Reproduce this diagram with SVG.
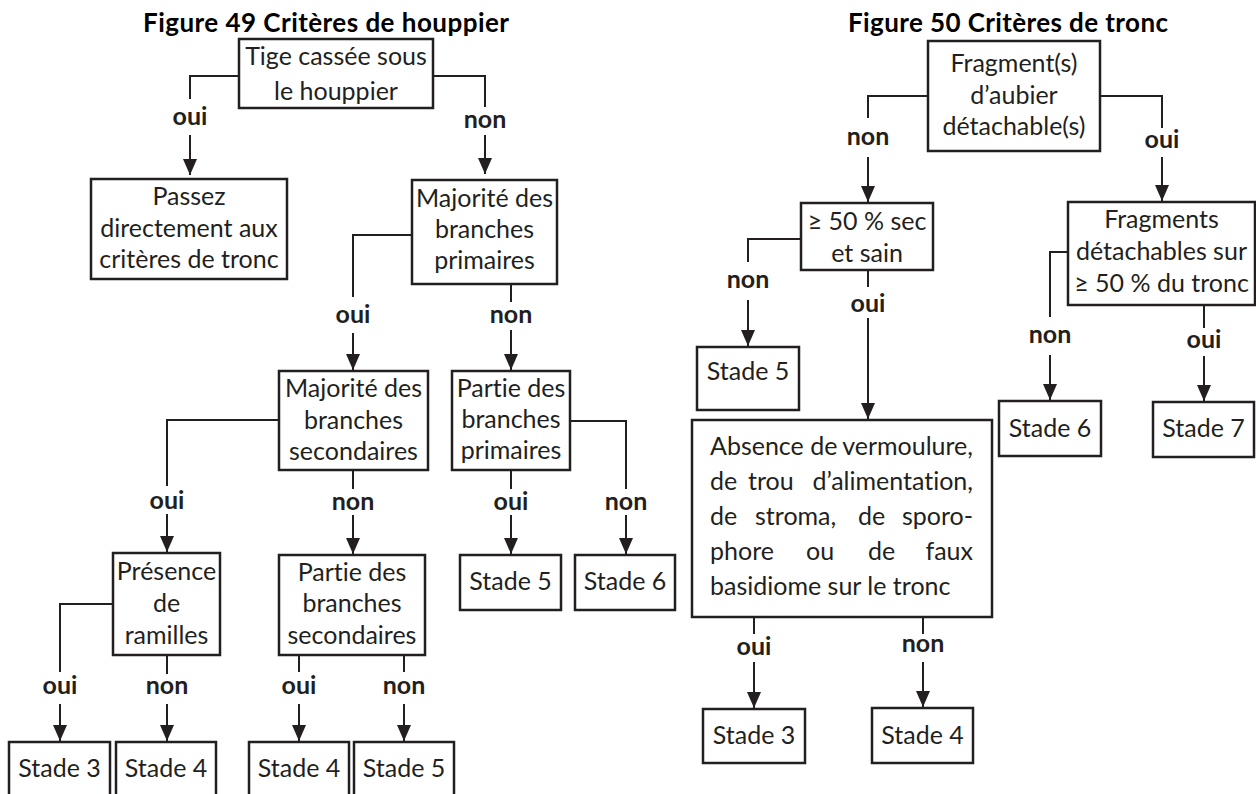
<svg xmlns="http://www.w3.org/2000/svg" width="1256" height="794" viewBox="0 0 1256 794">
<style>
.bg{fill:#ffffff}
.box{fill:none;stroke:#231f20;stroke-width:2.5}
text{font-variant-ligatures:none}
.t{font-family:Lato,"Open Sans","Liberation Sans",sans-serif;font-size:25px;fill:#231f20;text-anchor:middle}
.tl{font-family:Lato,"Open Sans","Liberation Sans",sans-serif;font-size:25px;fill:#231f20}
.lab{font-family:Lato,"Open Sans","Liberation Sans",sans-serif;font-size:25px;font-weight:bold;fill:#231f20;text-anchor:middle}
.title{font-family:Lato,"Open Sans","Liberation Sans",sans-serif;font-size:26px;font-weight:bold;fill:#000;text-anchor:middle}
.ln{fill:none;stroke:#231f20;stroke-width:2}
.ar{fill:none;stroke:#231f20;stroke-width:2;marker-end:url(#head)}
</style>
<defs>
<marker id="head" viewBox="0 0 16 16" markerWidth="16" markerHeight="16" refX="16" refY="8" orient="auto" markerUnits="userSpaceOnUse">
<path d="M0,1 L16,8 L0,15 Z" fill="#231f20"/>
</marker>
<clipPath id="clipTige"><rect x="239" y="39" width="194" height="65"/></clipPath>
</defs>
<rect class="bg" x="0" y="0" width="1256" height="794"/>

<g id="titles">
<text class="title" x="326" y="32" textLength="366">Figure 49 Critères de houppier</text>
<text class="title" x="1008" y="32" textLength="320">Figure 50 Critères de tronc</text>
</g>

<g id="connectors">
<path class="ln" d="M239,76 H190 V99"/>
<text class="lab" x="190" y="125">oui</text>
<path class="ar" d="M190,135 V175"/>
<path class="ln" d="M433,76 H485 V107"/>
<text class="lab" x="485" y="128">non</text>
<path class="ar" d="M485,135 V174"/>

<path class="ln" d="M412,235 H353 V297"/>
<text class="lab" x="353" y="323">oui</text>
<path class="ar" d="M353,333 V370"/>
<path class="ln" d="M511,284 V302"/>
<text class="lab" x="511" y="323">non</text>
<path class="ar" d="M511,330 V370"/>

<path class="ln" d="M279,420 H167 V486"/>
<text class="lab" x="167" y="509">oui</text>
<path class="ar" d="M167,514 V552"/>
<path class="ln" d="M353,470 V489"/>
<text class="lab" x="353" y="510">non</text>
<path class="ar" d="M353,515 V554"/>
<path class="ln" d="M511,470 V489"/>
<text class="lab" x="511" y="510">oui</text>
<path class="ar" d="M511,515 V554"/>
<path class="ln" d="M570,421 H626 V489"/>
<text class="lab" x="626" y="510">non</text>
<path class="ar" d="M626,515 V554"/>

<path class="ln" d="M113,604 H60 V672"/>
<text class="lab" x="60" y="694">oui</text>
<path class="ar" d="M60,704 V741"/>
<path class="ln" d="M167,655 V674"/>
<text class="lab" x="167" y="694">non</text>
<path class="ar" d="M167,704 V741"/>
<path class="ln" d="M299,655 V672"/>
<text class="lab" x="299" y="694">oui</text>
<path class="ar" d="M299,704 V741"/>
<path class="ln" d="M404,655 V672"/>
<text class="lab" x="404" y="694">non</text>
<path class="ar" d="M404,704 V741"/>

<path class="ln" d="M928,96 H868 V118"/>
<text class="lab" x="868" y="145">non</text>
<path class="ar" d="M868,157 V202"/>
<path class="ln" d="M1100,96 H1162 V128"/>
<text class="lab" x="1162" y="148">oui</text>
<path class="ar" d="M1162,157 V201"/>

<path class="ln" d="M801,239 H748 V262"/>
<text class="lab" x="748" y="288">non</text>
<path class="ar" d="M748,300 V346"/>
<path class="ln" d="M868,270 V287"/>
<text class="lab" x="868" y="312">oui</text>
<path class="ar" d="M868,318 V419"/>
<path class="ln" d="M1068,252 H1050 V317"/>
<text class="lab" x="1050" y="343">non</text>
<path class="ar" d="M1050,355 V400"/>
<path class="ln" d="M1204,305 V328"/>
<text class="lab" x="1204" y="348">oui</text>
<path class="ar" d="M1204,356 V401"/>

<path class="ln" d="M754,617 V634"/>
<text class="lab" x="754" y="655">oui</text>
<path class="ar" d="M754,662 V708"/>
<path class="ln" d="M923,617 V634"/>
<text class="lab" x="923" y="652">non</text>
<path class="ar" d="M923,662 V707"/>
</g>

<g id="n-tige">
<rect class="box" x="239" y="39" width="194" height="69"/>
<text class="t" x="336" y="65">Tige cassée sous</text>
<text class="t" x="336" y="100" clip-path="url(#clipTige)">le houppier</text>
</g>
<g id="n-passez">
<rect class="box" x="91" y="179" width="196" height="100"/>
<text class="t" x="189" y="205">Passez</text>
<text class="t" x="189" y="237">directement aux</text>
<text class="t" x="189" y="268">critères de tronc</text>
</g>
<g id="n-maj-prim">
<rect class="box" x="412" y="180" width="145" height="104"/>
<text class="t" x="484.5" y="207">Majorité des</text>
<text class="t" x="484.5" y="238">branches</text>
<text class="t" x="484.5" y="269">primaires</text>
</g>
<g id="n-maj-sec">
<rect class="box" x="279" y="371" width="149" height="99"/>
<text class="t" x="353.5" y="397">Majorité des</text>
<text class="t" x="353.5" y="429">branches</text>
<text class="t" x="353.5" y="460">secondaires</text>
</g>
<g id="n-partie-prim">
<rect class="box" x="452" y="371" width="118" height="99"/>
<text class="t" x="511" y="397">Partie des</text>
<text class="t" x="511" y="428">branches</text>
<text class="t" x="511" y="459">primaires</text>
</g>
<g id="n-presence">
<rect class="box" x="113" y="553" width="107" height="102"/>
<text class="t" x="166.5" y="580">Présence</text>
<text class="t" x="166.5" y="612">de</text>
<text class="t" x="166.5" y="644">ramilles</text>
</g>
<g id="n-partie-sec">
<rect class="box" x="279" y="555" width="146" height="100"/>
<text class="t" x="352" y="581">Partie des</text>
<text class="t" x="352" y="612">branches</text>
<text class="t" x="352" y="644">secondaires</text>
</g>
<g id="n-l-stade5a">
<rect class="box" x="460" y="555" width="101" height="55"/>
<text class="t" x="510.5" y="590">Stade 5</text>
</g>
<g id="n-l-stade6">
<rect class="box" x="575" y="555" width="100" height="55"/>
<text class="t" x="625" y="590">Stade 6</text>
</g>
<g id="n-l-stade3">
<rect class="box" x="9" y="742" width="101" height="60"/>
<text class="t" x="59.5" y="777">Stade 3</text>
</g>
<g id="n-l-stade4a">
<rect class="box" x="116" y="742" width="100" height="60"/>
<text class="t" x="166" y="777">Stade 4</text>
</g>
<g id="n-l-stade4b">
<rect class="box" x="249" y="742" width="100" height="60"/>
<text class="t" x="299" y="777">Stade 4</text>
</g>
<g id="n-l-stade5b">
<rect class="box" x="354" y="742" width="100" height="60"/>
<text class="t" x="404" y="777">Stade 5</text>
</g>

<g id="n-fragment">
<rect class="box" x="928" y="41" width="172" height="110"/>
<text class="t" x="1014" y="72">Fragment(s)</text>
<text class="t" x="1014" y="104">d’aubier</text>
<text class="t" x="1014" y="135">détachable(s)</text>
</g>
<g id="n-sec-sain">
<rect class="box" x="801" y="203" width="132" height="67"/>
<text class="t" x="867" y="230">≥ 50 % sec</text>
<text class="t" x="867" y="262">et sain</text>
</g>
<g id="n-fragments-det">
<rect class="box" x="1068" y="202" width="187" height="103"/>
<text class="t" x="1161.5" y="228">Fragments</text>
<text class="t" x="1161.5" y="260">détachables sur</text>
<text class="t" x="1161.5" y="292">≥ 50 % du tronc</text>
</g>
<g id="n-r-stade5">
<rect class="box" x="697" y="347" width="102" height="63"/>
<text class="t" x="748" y="380">Stade 5</text>
</g>
<g id="n-absence">
<rect class="box" x="692" y="420" width="300" height="197"/>
<text class="tl" y="455"><tspan x="710">Absence de</tspan><tspan x="973" text-anchor="end">vermoulure,</tspan></text>
<text class="tl" y="490"><tspan x="710">de</tspan><tspan x="748">trou</tspan><tspan x="973" text-anchor="end">d’alimentation,</tspan></text>
<text class="tl" y="525"><tspan x="710">de</tspan><tspan x="755">stroma,</tspan><tspan x="858">de</tspan><tspan x="973" text-anchor="end">sporo-</tspan></text>
<text class="tl" y="560"><tspan x="710">phore</tspan><tspan x="806">ou</tspan><tspan x="868">de</tspan><tspan x="973" text-anchor="end">faux</tspan></text>
<text class="tl" x="710" y="595">basidiome sur le tronc</text>
</g>
<g id="n-r-stade6">
<rect class="box" x="999" y="401" width="102" height="55"/>
<text class="t" x="1050" y="437">Stade 6</text>
</g>
<g id="n-r-stade7">
<rect class="box" x="1153" y="402" width="101" height="55"/>
<text class="t" x="1203.5" y="437">Stade 7</text>
</g>
<g id="n-r-stade3">
<rect class="box" x="703" y="709" width="102" height="54"/>
<text class="t" x="754" y="744">Stade 3</text>
</g>
<g id="n-r-stade4">
<rect class="box" x="872" y="708" width="101" height="55"/>
<text class="t" x="922.5" y="744">Stade 4</text>
</g>
</svg>
